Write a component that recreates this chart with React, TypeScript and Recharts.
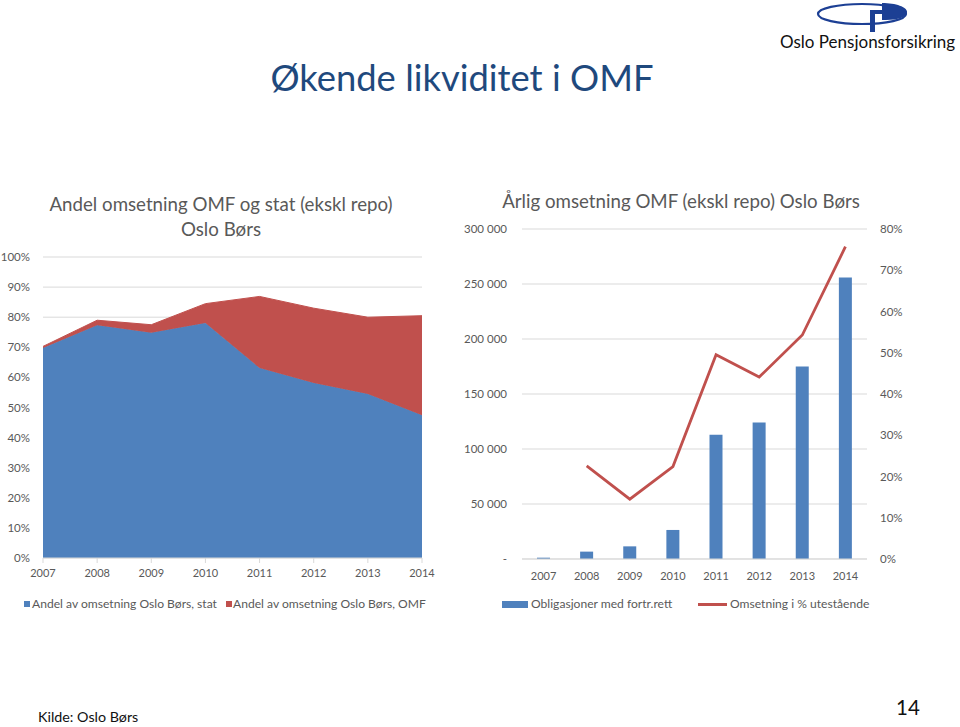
import React from "react";
import {
  AreaChart,
  Area,
  ComposedChart,
  Bar,
  Line,
  XAxis,
  YAxis,
  CartesianGrid,
} from "recharts";

// ─── Data ────────────────────────────────────────────────────────────────
const years = ["2007", "2008", "2009", "2010", "2011", "2012", "2013", "2014"];
// share of Oslo Børs turnover (%)
const statShare = [69.8, 77.3, 74.8, 78.1, 63.1, 58.1, 54.5, 47.4];
const omfShare = [0.5, 1.7, 2.7, 6.4, 23.8, 24.9, 25.5, 33.1];
// yearly OMF turnover (MNOK) and turnover in % of outstanding
const omfVolume = [1200, 6700, 11500, 26400, 113000, 124000, 175000, 256000];
const turnoverPct = [null, 22.6, 14.5, 22.4, 49.5, 44.1, 54.3, 75.7];

const shareTicks = [0, 10, 20, 30, 40, 50, 60, 70, 80, 90, 100];
const volumeTicks = [0, 50000, 100000, 150000, 200000, 250000, 300000];
const pctTicks = [0, 10, 20, 30, 40, 50, 60, 70, 80];

const BLUE = "#4F81BD";
const RED = "#C0504D";
const GRID = "#d9d9d9";
const TXT = "#595959";
const FONT = "Lato, 'Open Sans', sans-serif";

const shareData = years.map((y, i) => ({ year: y, stat: statShare[i], omf: omfShare[i] }));
const volumeData = years.map((y, i) => ({ year: y, volume: omfVolume[i], pct: turnoverPct[i] }));

const fmtVolume = (v: number) => (v === 0 ? "-" : String(v).replace(/\B(?=(\d{3})+(?!\d))/g, " "));

const tickStyle = { fontSize: 11.5, fill: TXT, fontFamily: FONT };

function Logo() {
  return (
    <div style={{ position: "absolute", left: 770, top: 0, width: 190, height: 52 }}>
      <svg width={190} height={34} style={{ position: "absolute", left: 0, top: 0 }}>
        <ellipse cx={92} cy={14} rx={44} ry={10} fill="none" stroke="#1c3f94" strokeWidth={2.2} />
        <path d="M112 3 C126 3 137 7 137 12 C137 17 128 20 116 20 L112 20 Z" fill="#1c3f94" />
        <rect x={100} y={10} width={5} height={22} fill="#1c3f94" />
        <rect x={100} y={10} width={14} height={4} fill="#1c3f94" />
      </svg>
      <div
        style={{
          position: "absolute",
          left: 10,
          top: 31,
          fontFamily: FONT,
          fontSize: 17,
          color: "#111",
          whiteSpace: "nowrap",
        }}
      >
        Oslo Pensjonsforsikring
      </div>
    </div>
  );
}

function Text({
  x,
  y,
  size,
  color = TXT,
  children,
}: {
  x: number;
  y: number;
  size: number;
  color?: string;
  children: React.ReactNode;
}) {
  // x = horizontal centre, y = vertical centre
  return (
    <div
      style={{
        position: "absolute",
        left: x - 300,
        width: 600,
        top: y - size * 0.6,
        textAlign: "center",
        fontFamily: FONT,
        fontSize: size,
        lineHeight: 1.2,
        color,
        whiteSpace: "nowrap",
      }}
    >
      {children}
    </div>
  );
}

function Swatch({ x, y, w, h, color }: { x: number; y: number; w: number; h: number; color: string }) {
  return <div style={{ position: "absolute", left: x, top: y - h / 2, width: w, height: h, background: color }} />;
}

function LegendText({ x, y, children }: { x: number; y: number; children: React.ReactNode }) {
  return (
    <div
      style={{
        position: "absolute",
        left: x,
        top: y - 8,
        fontFamily: FONT,
        fontSize: 12.1,
        lineHeight: "16px",
        color: TXT,
        whiteSpace: "nowrap",
      }}
    >
      {children}
    </div>
  );
}

export default function App() {
  return (
    <div
      style={{
        position: "absolute",
        left: 0,
        top: 0,
        width: 960,
        height: 727,
        background: "#fff",
        overflow: "hidden",
      }}
    >
      <Logo />
      <Text x={462} y={78} size={36.4} color="#1F497D">
        Økende likviditet i OMF
      </Text>

      {/* ─── Left: share of turnover, stacked area ─── */}
      <Text x={221} y={204} size={18.7}>
        Andel omsetning OMF og stat (ekskl repo)
      </Text>
      <Text x={221} y={229} size={18.7}>
        Oslo Børs
      </Text>
      <div style={{ position: "absolute", left: 0, top: 240 }}>
        <AreaChart width={460} height={350} data={shareData} margin={{ top: 17, right: 38, left: 3, bottom: 2 }}>
          <CartesianGrid vertical={false} stroke={GRID} />
          <XAxis
            dataKey="year"
            tick={{ ...tickStyle, fontSize: 11 }}
            axisLine={{ stroke: GRID }}
            tickLine={{ stroke: GRID }}
            tickSize={5}
            tickMargin={6}
            height={30}
            interval={0}
          />
          <YAxis
            domain={[0, 100]}
            ticks={shareTicks}
            tickFormatter={(v) => `${v}%`}
            tick={tickStyle}
            axisLine={false}
            tickLine={false}
            tickMargin={7}
            width={40}
            interval={0}
          />
          <Area
            type="linear"
            dataKey="stat"
            stackId="1"
            stroke={BLUE}
            fill={BLUE}
            fillOpacity={1}
            isAnimationActive={false}
          />
          <Area
            type="linear"
            dataKey="omf"
            stackId="1"
            stroke={RED}
            fill={RED}
            fillOpacity={1}
            isAnimationActive={false}
          />
        </AreaChart>
      </div>
      <Swatch x={24} y={604} w={6} h={6} color={BLUE} />
      <LegendText x={32} y={604}>Andel av omsetning Oslo Børs, stat</LegendText>
      <Swatch x={226} y={604} w={6} h={6} color={RED} />
      <LegendText x={233} y={604}>Andel av omsetning Oslo Børs, OMF</LegendText>

      {/* ─── Right: yearly OMF turnover + % of outstanding ─── */}
      <Text x={681} y={201} size={18.7}>
        Årlig omsetning OMF (ekskl repo) Oslo Børs
      </Text>
      <div style={{ position: "absolute", left: 450, top: 180 }}>
        <ComposedChart width={510} height={410} data={volumeData} margin={{ top: 49, right: 33, left: 2, bottom: 1 }}>
          <CartesianGrid vertical={false} stroke={GRID} yAxisId="vol" />
          <XAxis
            dataKey="year"
            tick={{ ...tickStyle, fontSize: 11 }}
            axisLine={{ stroke: GRID }}
            tickLine={false}
            tickMargin={7}
            height={30}
            interval={0}
          />
          <YAxis
            yAxisId="vol"
            domain={[0, 300000]}
            ticks={volumeTicks}
            tickFormatter={fmtVolume}
            tick={tickStyle}
            axisLine={false}
            tickLine={false}
            tickMargin={9}
            width={70}
            interval={0}
          />
          <YAxis
            yAxisId="pct"
            orientation="right"
            domain={[0, 80]}
            ticks={pctTicks}
            tickFormatter={(v) => `${v}%`}
            tick={{ ...tickStyle, textAnchor: "start" }}
            axisLine={false}
            tickLine={false}
            tickMargin={7}
            width={60}
            interval={0}
          />
          <Bar yAxisId="vol" dataKey="volume" fill={BLUE} barSize={13} isAnimationActive={false} />
          <Line
            yAxisId="pct"
            type="linear"
            dataKey="pct"
            stroke={RED}
            strokeWidth={2.8}
            dot={false}
            activeDot={false}
            connectNulls={false}
            isAnimationActive={false}
          />
        </ComposedChart>
      </div>
      <Swatch x={502} y={604} w={26} h={7} color={BLUE} />
      <LegendText x={531} y={604}>Obligasjoner med fortr.rett</LegendText>
      <Swatch x={698} y={604} w={29} h={3} color={RED} />
      <LegendText x={730} y={604}>Omsetning i % utestående</LegendText>

      {/* ─── Footer ─── */}
      <div
        style={{
          position: "absolute",
          left: 38,
          top: 708,
          fontFamily: FONT,
          fontSize: 14.3,
          lineHeight: "18px",
          color: "#111",
        }}
      >
        Kilde: Oslo Børs
      </div>
      <div
        style={{
          position: "absolute",
          left: 896,
          top: 694,
          fontFamily: FONT,
          fontSize: 20.5,
          lineHeight: "26px",
          color: "#111",
        }}
      >
        14
      </div>
    </div>
  );
}
